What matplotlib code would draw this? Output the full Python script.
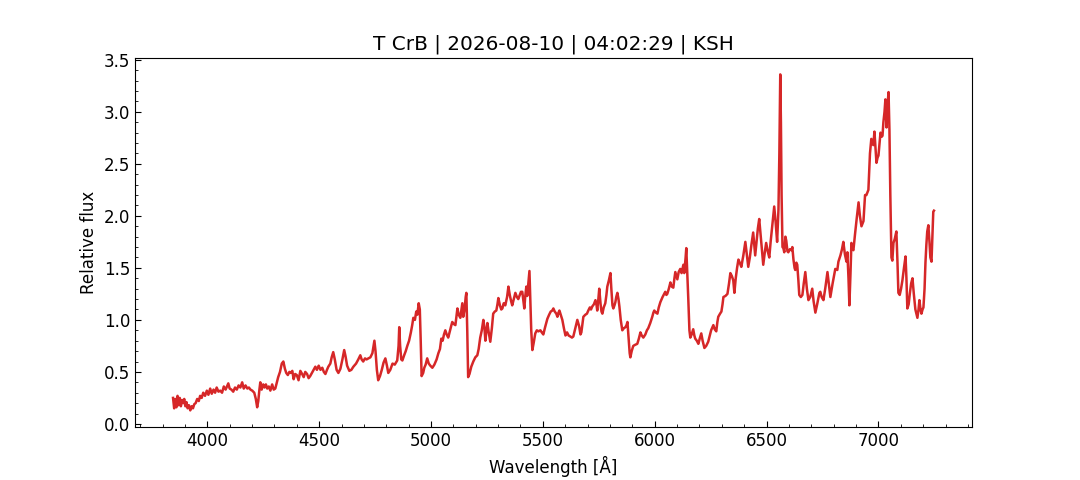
import matplotlib
matplotlib.use("Agg")
import matplotlib.pyplot as plt
from matplotlib.ticker import AutoMinorLocator

wavelength = [
    3847, 3852, 3857, 3862, 3867, 3872, 3877, 3882, 3887, 3892, 3897, 3902, 3907, 3912, 3918, 3924,
    3930, 3936, 3942, 3948, 3955, 3962, 3968, 3975, 3982, 3990, 3998, 4005, 4013, 4020, 4028, 4035,
    4042, 4050, 4058, 4066, 4074, 4082, 4090, 4094, 4100, 4108, 4116, 4124, 4132, 4140, 4148, 4156,
    4163, 4171, 4179, 4186, 4193, 4201, 4210, 4217, 4223, 4228, 4233, 4237, 4243, 4250, 4256, 4262,
    4268, 4275, 4282, 4290, 4297, 4304, 4310, 4317, 4325, 4333, 4340, 4347, 4353, 4360, 4367, 4373,
    4380, 4386, 4393, 4400, 4408, 4416, 4424, 4431, 4438, 4446, 4453, 4460, 4470, 4483, 4490, 4498,
    4506, 4514, 4521, 4528, 4535, 4541, 4550, 4556, 4563, 4570, 4578, 4586, 4595, 4604, 4612, 4618,
    4625, 4635, 4644, 4653, 4665, 4675, 4684, 4690, 4697, 4705, 4712, 4720, 4729, 4738, 4747, 4752,
    4758, 4764, 4772, 4780, 4788, 4796, 4803, 4809, 4818, 4828, 4838, 4849, 4855, 4858, 4862, 4867,
    4872, 4880, 4887, 4894, 4902, 4910, 4916, 4921, 4928, 4934, 4939, 4945, 4950, 4954, 4958, 4965,
    4970, 4976, 4983, 4990, 4997, 5006, 5015, 5025, 5033, 5040, 5046, 5052, 5058, 5064, 5070, 5077,
    5085, 5090, 5095, 5102, 5109, 5118, 5124, 5131, 5136, 5140, 5144, 5150, 5155, 5158, 5162, 5166,
    5172, 5180, 5189, 5198, 5207, 5213, 5220, 5227, 5234, 5239, 5243, 5248, 5252, 5258, 5265, 5272,
    5278, 5285, 5292, 5297, 5301, 5308, 5314, 5319, 5325, 5332, 5340, 5346, 5352, 5358, 5363, 5370,
    5377, 5384, 5390, 5397, 5402, 5408, 5413, 5417, 5421, 5426, 5430, 5435, 5440, 5444, 5448, 5453,
    5459, 5466, 5473, 5480, 5489, 5495, 5502, 5510, 5520, 5528, 5535, 5542, 5547, 5553, 5560, 5565,
    5570, 5574, 5580, 5587, 5594, 5601, 5608, 5615, 5623, 5630, 5636, 5645, 5654, 5662, 5668, 5672,
    5677, 5681, 5690, 5697, 5703, 5710, 5715, 5721, 5728, 5735, 5740, 5743, 5748, 5752, 5758, 5762,
    5766, 5772, 5779, 5784, 5788, 5795, 5802, 5806, 5811, 5815, 5820, 5824, 5828, 5833, 5838, 5842,
    5848, 5855, 5862, 5869, 5874, 5878, 5884, 5888, 5891, 5897, 5904, 5912, 5922, 5929, 5936, 5942,
    5949, 5958, 5965, 5971, 5980, 5989, 5994, 5998, 6005, 6012, 6018, 6025, 6035, 6047, 6052, 6056,
    6063, 6070, 6076, 6083, 6088, 6092, 6097, 6101, 6107, 6114, 6120, 6128, 6132, 6138, 6141, 6146,
    6150, 6155, 6159, 6165, 6172, 6177, 6181, 6188, 6195, 6201, 6208, 6214, 6222, 6230, 6239, 6245,
    6252, 6262, 6268, 6275, 6280, 6284, 6292, 6298, 6303, 6307, 6316, 6325, 6332, 6338, 6345, 6351,
    6356, 6362, 6368, 6374, 6380, 6387, 6396, 6405, 6412, 6418, 6425, 6432, 6440, 6445, 6449, 6455,
    6461, 6467, 6472, 6478, 6485, 6492, 6498, 6505, 6512, 6518, 6525, 6534, 6540, 6547, 6553, 6557,
    6561, 6564, 6567, 6571, 6575, 6579, 6584, 6588, 6593, 6597, 6604, 6611, 6615, 6620, 6625, 6628,
    6633, 6637, 6642, 6646, 6653, 6660, 6666, 6673, 6680, 6687, 6695, 6704, 6710, 6718, 6726, 6736,
    6740, 6746, 6754, 6762, 6772, 6778, 6785, 6795, 6807, 6816, 6821, 6830, 6837, 6843, 6850, 6857,
    6861, 6866, 6870, 6875, 6879, 6884, 6888, 6895, 6903, 6911, 6917, 6924, 6933, 6940, 6946, 6955,
    6962, 6968, 6972, 6977, 6982, 6987, 6991, 6996, 7000, 7005, 7009, 7014, 7018, 7022, 7027, 7031,
    7034, 7036, 7040, 7045, 7049, 7053, 7058, 7062, 7067, 7073, 7080, 7085, 7089, 7095, 7101, 7107,
    7114, 7121, 7125, 7129, 7135, 7140, 7146, 7152, 7158, 7165, 7174, 7179, 7183, 7188, 7192, 7197,
    7201, 7206, 7210, 7214, 7218, 7223, 7228, 7232, 7237, 7241, 7245, 7248,
]

flux = [
    0.25, 0.15, 0.24, 0.16, 0.27, 0.18, 0.25, 0.17, 0.23, 0.20, 0.24, 0.17, 0.21, 0.15, 0.18, 0.13,
    0.17, 0.15, 0.19, 0.20, 0.24, 0.22, 0.27, 0.25, 0.30, 0.27, 0.32, 0.28, 0.34, 0.29, 0.33, 0.30,
    0.35, 0.31, 0.32, 0.30, 0.36, 0.33, 0.37, 0.39, 0.34, 0.33, 0.31, 0.35, 0.33, 0.37, 0.35, 0.40,
    0.34, 0.37, 0.34, 0.35, 0.33, 0.32, 0.30, 0.24, 0.16, 0.22, 0.33, 0.40, 0.33, 0.38, 0.35, 0.38,
    0.34, 0.36, 0.32, 0.38, 0.33, 0.34, 0.39, 0.45, 0.50, 0.58, 0.60, 0.53, 0.49, 0.47, 0.50, 0.49,
    0.51, 0.43, 0.48, 0.47, 0.42, 0.51, 0.48, 0.45, 0.50, 0.48, 0.44, 0.46, 0.50, 0.55, 0.52, 0.56,
    0.52, 0.54, 0.50, 0.48, 0.52, 0.55, 0.58, 0.64, 0.69, 0.62, 0.52, 0.49, 0.53, 0.62, 0.71, 0.65,
    0.56, 0.51, 0.52, 0.55, 0.58, 0.62, 0.66, 0.62, 0.60, 0.63, 0.62, 0.63, 0.64, 0.68, 0.80, 0.70,
    0.52, 0.42, 0.46, 0.52, 0.59, 0.63, 0.56, 0.49, 0.52, 0.58, 0.57, 0.61, 0.75, 0.93, 0.75, 0.62,
    0.61, 0.66, 0.70, 0.75, 0.80, 0.88, 0.95, 1.02, 1.00, 1.08, 1.05, 1.16, 1.10, 0.80, 0.46, 0.49,
    0.54, 0.57, 0.63, 0.58, 0.56, 0.54, 0.57, 0.62, 0.68, 0.72, 0.82, 0.80, 0.86, 0.90, 0.86, 0.83,
    0.90, 0.94, 0.98, 0.96, 0.95, 1.11, 1.05, 1.02, 1.10, 1.16, 1.03, 1.10, 1.22, 1.26, 0.90, 0.45,
    0.48, 0.55, 0.60, 0.64, 0.66, 0.72, 0.83, 0.90, 1.00, 0.92, 0.80, 0.90, 0.97, 0.88, 0.79, 0.92,
    1.06, 1.08, 1.09, 1.15, 1.21, 1.14, 1.10, 1.11, 1.16, 1.14, 1.22, 1.32, 1.24, 1.18, 1.14, 1.20,
    1.26, 1.22, 1.20, 1.24, 1.27, 1.27, 1.18, 1.11, 1.22, 1.32, 1.23, 1.35, 1.47, 1.20, 0.90, 0.71,
    0.78, 0.87, 0.90, 0.89, 0.90, 0.88, 0.86, 0.93, 1.01, 1.05, 1.08, 1.09, 1.11, 1.08, 1.06, 1.03,
    1.07, 1.09, 1.05, 1.00, 0.92, 0.85, 0.88, 0.85, 0.84, 0.83, 0.84, 0.92, 1.00, 0.94, 0.86, 0.88,
    0.96, 1.03, 1.05, 1.06, 1.09, 1.12, 1.10, 1.13, 1.15, 1.19, 1.14, 1.09, 1.20, 1.30, 1.15, 1.08,
    1.06, 1.12, 1.16, 1.24, 1.32, 1.38, 1.45, 1.30, 1.14, 1.11, 1.14, 1.17, 1.22, 1.26, 1.20, 1.13,
    1.00, 0.90, 0.92, 0.93, 0.95, 0.98, 0.80, 0.68, 0.64, 0.70, 0.75, 0.76, 0.77, 0.82, 0.88, 0.85,
    0.83, 0.86, 0.90, 0.92, 0.97, 1.03, 1.07, 1.09, 1.07, 1.06, 1.12, 1.17, 1.22, 1.27, 1.24, 1.25,
    1.30, 1.36, 1.32, 1.31, 1.40, 1.46, 1.42, 1.39, 1.46, 1.49, 1.45, 1.53, 1.45, 1.60, 1.69, 1.42,
    1.20, 0.90, 0.83, 0.86, 0.91, 0.85, 0.82, 0.80, 0.77, 0.82, 0.87, 0.80, 0.73, 0.75, 0.79, 0.84,
    0.90, 0.95, 0.91, 0.89, 0.98, 1.03, 1.06, 1.08, 1.15, 1.22, 1.23, 1.25, 1.35, 1.45, 1.42, 1.38,
    1.26, 1.40, 1.50, 1.58, 1.55, 1.51, 1.62, 1.75, 1.62, 1.51, 1.60, 1.72, 1.84, 1.72, 1.62, 1.75,
    1.88, 1.97, 1.85, 1.70, 1.53, 1.65, 1.74, 1.66, 1.60, 1.75, 1.90, 2.09, 1.95, 1.75, 2.06, 2.60,
    3.36, 2.90, 2.20, 1.70, 1.69, 1.65, 1.80, 1.76, 1.66, 1.65, 1.68, 1.67, 1.70, 1.58, 1.50, 1.48,
    1.55, 1.53, 1.38, 1.24, 1.22, 1.24, 1.35, 1.46, 1.30, 1.19, 1.22, 1.30, 1.18, 1.07, 1.15, 1.26,
    1.27, 1.22, 1.19, 1.30, 1.46, 1.35, 1.22, 1.35, 1.49, 1.48, 1.56, 1.62, 1.68, 1.75, 1.63, 1.56,
    1.65, 1.40, 1.14, 1.45, 1.74, 1.68, 1.67, 1.82, 1.98, 2.13, 2.00, 1.90, 1.95, 2.20, 2.20, 2.25,
    2.60, 2.74, 2.70, 2.68, 2.81, 2.65, 2.51, 2.56, 2.58, 2.70, 2.80, 2.76, 2.77, 2.90, 3.00, 3.12,
    2.95, 2.85, 3.05, 3.19, 2.83, 2.20, 1.60, 1.57, 1.74, 1.78, 1.85, 1.55, 1.26, 1.24, 1.30, 1.38,
    1.50, 1.61, 1.40, 1.11, 1.15, 1.25, 1.35, 1.40, 1.25, 1.10, 1.02, 1.10, 1.19, 1.10, 1.06, 1.10,
    1.12, 1.30, 1.55, 1.72, 1.85, 1.91, 1.75, 1.60, 1.56, 1.79, 2.04, 2.05,
]

title = "T CrB | 2026-08-10 | 04:02:29 | KSH"
xlabel = "Wavelength [Å]"
ylabel = "Relative flux"

fig, ax = plt.subplots(figsize=(10.8, 4.8), dpi=100)
ax.plot(wavelength, flux, color="#d62728", linewidth=1.8)
ax.set_title(title, fontsize=14.4)
ax.set_xlabel(xlabel, fontsize=12)
ax.set_ylabel(ylabel, fontsize=12)
ax.xaxis.set_minor_locator(AutoMinorLocator(5))
ax.yaxis.set_minor_locator(AutoMinorLocator(5))
ax.tick_params(which="both", direction="in", labelsize=12)
ax.tick_params(which="major", length=4)
ax.tick_params(which="minor", length=2.5)
fig.savefig("out.png", dpi=100)
